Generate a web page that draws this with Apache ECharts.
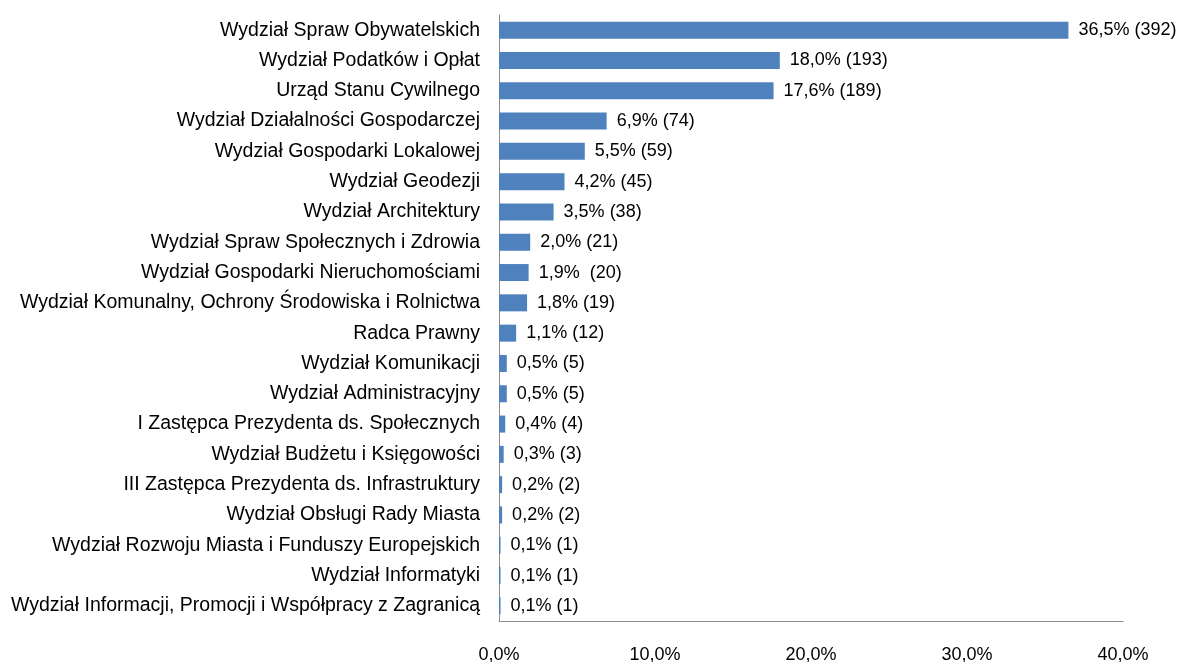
<!DOCTYPE html>
<html><head><meta charset="utf-8">
<script src="https://cdn.jsdelivr.net/npm/echarts@6/dist/echarts.min.js"></script>
<style>html,body{margin:0;padding:0;background:#fff}#c{width:1188px;height:662px}</style>
</head><body><div id="c"></div>
<script>
const categories = [
  "Wydział Spraw Obywatelskich",
  "Wydział Podatków i Opłat",
  "Urząd Stanu Cywilnego",
  "Wydział Działalności Gospodarczej",
  "Wydział Gospodarki Lokalowej",
  "Wydział Geodezji",
  "Wydział Architektury",
  "Wydział Spraw Społecznych i Zdrowia",
  "Wydział Gospodarki Nieruchomościami",
  "Wydział Komunalny, Ochrony Środowiska i Rolnictwa",
  "Radca Prawny",
  "Wydział Komunikacji",
  "Wydział Administracyjny",
  "I Zastępca Prezydenta ds. Społecznych",
  "Wydział Budżetu i Księgowości",
  "III Zastępca Prezydenta ds. Infrastruktury",
  "Wydział Obsługi Rady Miasta",
  "Wydział Rozwoju Miasta i Funduszy Europejskich",
  "Wydział Informatyki",
  "Wydział Informacji, Promocji i Współpracy z Zagranicą"
];
const percents = [36.5, 18.0, 17.6, 6.9, 5.5, 4.2, 3.5, 2.0, 1.9, 1.8, 1.1, 0.5, 0.5, 0.4, 0.3, 0.2, 0.2, 0.1, 0.1, 0.1];
const counts = [392, 193, 189, 74, 59, 45, 38, 21, 20, 19, 12, 5, 5, 4, 3, 2, 2, 1, 1, 1];
const labelSeparators = [" "," "," "," "," "," "," "," ","  "," "," "," "," "," "," "," "," "," "," "," "];
const xTicks = [0, 10, 20, 30, 40];

const fmt = v => v.toFixed(1).replace('.', ',') + '%';
const chart = echarts.init(document.getElementById('c'), null, {renderer: 'canvas'});
const FONT = '"Liberation Sans", Arial, sans-serif';
chart.setOption({
  animation: false,
  grid: {left: 499, right: 65, top: 15, bottom: 41, containLabel: false, outerBoundsMode: 'none'},
  xAxis: {
    type: 'value', min: xTicks[0], max: xTicks[xTicks.length - 1], interval: 10,
    axisLine: {show: true, lineStyle: {color: '#8c8c8c', width: 1}},
    axisTick: {show: false},
    splitLine: {show: false},
    axisLabel: {formatter: fmt, color: '#000', fontSize: 18, fontFamily: FONT, margin: 25}
  },
  yAxis: {
    type: 'category', data: categories, inverse: true,
    axisLine: {show: true, lineStyle: {color: '#8c8c8c', width: 1}},
    axisTick: {show: false},
    axisLabel: {color: '#000', fontSize: 19.5, fontFamily: FONT, margin: 19}
  },
  series: [{
    type: 'bar',
    data: percents,
    barWidth: 17,
    itemStyle: {color: '#4f81bd'},
    label: {
      show: true, position: 'right', distance: 10,
      color: '#000', fontSize: 18, fontFamily: FONT,
      formatter: p => fmt(percents[p.dataIndex]) + labelSeparators[p.dataIndex] + '(' + counts[p.dataIndex] + ')'
    }
  }]
});
</script></body></html>
